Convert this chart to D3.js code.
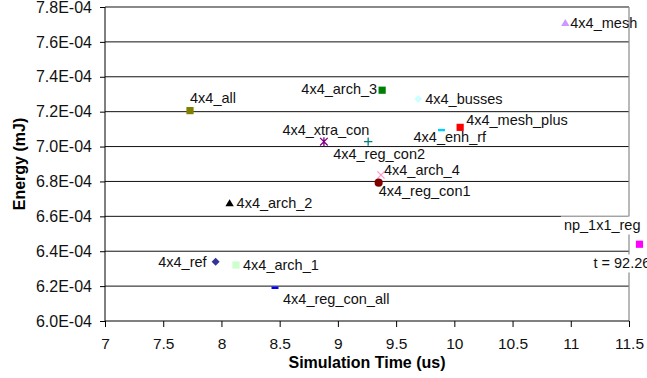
<!DOCTYPE html>
<html>
<head>
<meta charset="utf-8">
<script src="https://cdn.jsdelivr.net/npm/d3@7"></script>
<style>
  body { margin: 0; background: #fff; }
  svg { display: block; font-family: "Liberation Sans", Arial, sans-serif; }
</style>
</head>
<body>
<svg></svg>
<script>
const width = 647;
const height = 378;
const margin = { top: 7, right: 18, bottom: 57, left: 105 };
const innerWidth = width - margin.left - margin.right;
const innerHeight = height - margin.top - margin.bottom;

// values
const configs = [
	'4x4_ref', '4x4_arch_1', '4x4_arch_2', '4x4_arch_3', '4x4_arch_4',
	'4x4_all', '4x4_busses', '4x4_enh_rf', '4x4_mesh', '4x4_mesh_plus',
	'4x4_reg_con1', '4x4_reg_con2', '4x4_reg_con_all', '4x4_xtra_con', 'np_1x1_reg'
];
const simTime = [
	7.95, 8.125, 8.07, 9.38, 9.37,
	7.73, 9.69, 9.89, 10.953, 10.05,
	9.35, 9.26, 8.46, 8.88, 11.59
];
const energy = [
	6.34e-4, 6.321e-4, 6.678e-4, 7.323e-4, 6.837e-4,
	7.206e-4, 7.273e-4, 7.095e-4, 7.711e-4, 7.11e-4,
	6.793e-4, 7.028e-4, 6.191e-4, 7.028e-4, 6.44e-4
];
const xTicks = [7, 7.5, 8, 8.5, 9, 9.5, 10, 10.5, 11, 11.5];
const yTicks = [6.0e-4, 6.2e-4, 6.4e-4, 6.6e-4, 6.8e-4, 7.0e-4, 7.2e-4, 7.4e-4, 7.6e-4, 7.8e-4];
const extraNote = 't = 92.26';

const data = configs.map((name, i) => ({ name, x: simTime[i], y: energy[i] }));

// marker look per configuration
const markers = {
	'4x4_ref': { shape: 'diamond', color: '#333399' },
	'4x4_arch_1': { shape: 'square', color: '#ccffcc' },
	'4x4_arch_2': { shape: 'triangle', color: '#000000' },
	'4x4_arch_3': { shape: 'square', color: '#008000' },
	'4x4_arch_4': { shape: 'x', color: '#ff99cc' },
	'4x4_all': { shape: 'square', color: '#808000' },
	'4x4_busses': { shape: 'diamond', color: '#ccffff' },
	'4x4_enh_rf': { shape: 'dash', color: '#00ccff' },
	'4x4_mesh': { shape: 'triangle', color: '#cc99ff' },
	'4x4_mesh_plus': { shape: 'square', color: '#ff0000' },
	'4x4_reg_con1': { shape: 'circle', color: '#800000' },
	'4x4_reg_con2': { shape: 'plus', color: '#008080' },
	'4x4_reg_con_all': { shape: 'dash', color: '#0000ff' },
	'4x4_xtra_con': { shape: 'star', color: '#800080' },
	'np_1x1_reg': { shape: 'square', color: '#ff00ff' }
};

// where each data label sits relative to its marker
const labelPlace = {
	'4x4_ref': { anchor: 'end', dx: -9, dy: 0 },
	'4x4_arch_1': { anchor: 'start', dx: 7, dy: 0 },
	'4x4_arch_2': { anchor: 'start', dx: 7, dy: 0 },
	'4x4_arch_3': { anchor: 'end', dx: -5, dy: -1 },
	'4x4_arch_4': { anchor: 'start', dx: 3, dy: -5 },
	'4x4_all': { anchor: 'start', dx: 0, dy: -13 },
	'4x4_busses': { anchor: 'start', dx: 7, dy: 0 },
	'4x4_enh_rf': { anchor: 'start', dx: -28, dy: 7 },
	'4x4_mesh': { anchor: 'start', dx: 5, dy: 0 },
	'4x4_mesh_plus': { anchor: 'start', dx: 6, dy: -8 },
	'4x4_reg_con1': { anchor: 'start', dx: 0, dy: 8 },
	'4x4_reg_con2': { anchor: 'start', dx: -35, dy: 12 },
	'4x4_reg_con_all': { anchor: 'start', dx: 8, dy: 11 },
	'4x4_xtra_con': { anchor: 'middle', dx: 2, dy: -12 },
	'np_1x1_reg': { anchor: 'end', dx: 1, dy: -19, boxed: true }
};

const shapePath = (shape) => {
	switch (shape) {
		case 'square': return 'M-3.6,-3.6h7.2v7.2h-7.2Z';
		case 'diamond': return 'M0,-4L4,0L0,4L-4,0Z';
		case 'triangle': return 'M0,-3.6L4.2,3.4L-4.2,3.4Z';
		case 'dash': return 'M-3.5,-1.1h7v2.4h-7Z';
		case 'circle': return d3.symbol(d3.symbolCircle, 52)();
		case 'x': return 'M-3.6,-3.6L3.6,3.6M3.6,-3.6L-3.6,3.6';
		case 'plus': return 'M-4.2,0H4.2M0,-4.2V4.2';
		case 'star': return 'M-3.8,-3.8L3.8,3.8M3.8,-3.8L-3.8,3.8M0,-4.4V4.4';
	}
};
const stroked = s => s === 'x' || s === 'plus' || s === 'star';

const svg = d3.select('svg')
	.attr('width', width)
	.attr('height', height);

const xScale = d3.scaleLinear()
	.domain([7, 11.5])
	.range([0, innerWidth]);

const yScale = d3.scaleLinear()
	.domain([6.0e-4, 7.8e-4])
	.range([innerHeight, 0]);

const g = svg.append('g')
	.attr('transform', `translate(${margin.left}, ${margin.top})`);

// gridlines
const yAxis = d3.axisLeft(yScale)
	.tickValues(yTicks)
	.tickFormat(d => (d * 1e4).toFixed(1) + 'E-04')
	.tickSize(5)
	.tickPadding(8);

g.append('g')
	.attr('class', 'grid')
	.selectAll('line')
	.data(yTicks.slice(1))
	.enter().append('line')
	.attr('x1', 0)
	.attr('x2', innerWidth)
	.attr('y1', d => yScale(d))
	.attr('y2', d => yScale(d))
	.attr('stroke', '#111')
	.attr('stroke-width', 1);

// plot area border on top / right
g.append('path')
	.attr('d', `M0,0.5H${innerWidth}V${innerHeight}`)
	.attr('fill', 'none')
	.attr('stroke', '#8a8a8a')
	.attr('stroke-width', 1.2);

const yAxisG = g.append('g').call(yAxis);
yAxisG.selectAll('text')
	.attr('font-size', 16)
	.attr('fill', '#111')
	.attr('font-family', '"Liberation Sans", Arial, sans-serif');
yAxisG.selectAll('.domain, .tick line').attr('stroke', '#000');
yAxisG.select('.domain').attr('d', `M0,0V${innerHeight}`);

const xAxisG = g.append('g')
	.attr('transform', `translate(0, ${innerHeight})`)
	.call(d3.axisBottom(xScale)
		.tickValues(xTicks)
		.tickFormat(d => d)
		.tickSize(6)
		.tickPadding(11));
xAxisG.selectAll('text')
	.attr('font-size', 15.5)
	.attr('fill', '#111')
	.attr('font-family', '"Liberation Sans", Arial, sans-serif');
xAxisG.selectAll('.domain, .tick line').attr('stroke', '#000');
xAxisG.select('.domain').attr('d', `M0,0H${innerWidth}`);

// axis titles
g.append('text')
	.attr('x', innerWidth / 2)
	.attr('y', innerHeight + 47)
	.attr('text-anchor', 'middle')
	.attr('font-size', 16)
	.attr('font-weight', 'bold')
	.text('Simulation Time (us)');

svg.append('text')
	.attr('transform', `translate(25, ${margin.top + innerHeight / 2}) rotate(-90)`)
	.attr('text-anchor', 'middle')
	.attr('font-size', 16)
	.attr('font-weight', 'bold')
	.text('Energy (mJ)');

// data labels
const labels = g.append('g');
const addLabel = (text, x, y, anchor, boxed) => {
	const lg = labels.append('g');
	const t = lg.append('text')
		.attr('x', x)
		.attr('y', y)
		.attr('dy', '0.36em')
		.attr('text-anchor', anchor)
		.attr('font-size', 14.5)
		.attr('fill', '#111')
		.text(text);
	if (boxed) {
		const b = t.node().getBBox();
		lg.insert('rect', 'text')
			.attr('x', b.x - 3)
			.attr('y', b.y - 1)
			.attr('width', b.width + 6)
			.attr('height', b.height + 2)
			.attr('fill', '#fff');
	}
};

data.forEach(d => {
	const p = labelPlace[d.name];
	addLabel(d.name, xScale(d.x) + p.dx, yScale(d.y) + p.dy, p.anchor, p.boxed);
});
const np = data.find(d => d.name === 'np_1x1_reg');
addLabel(extraNote, xScale(np.x) - 46, yScale(np.y) + 19, 'start', true);

// markers
g.append('g').selectAll('path')
	.data(data)
	.enter().append('path')
	.attr('transform', d => `translate(${xScale(d.x)}, ${yScale(d.y)})`)
	.attr('d', d => shapePath(markers[d.name].shape))
	.attr('fill', d => stroked(markers[d.name].shape) ? 'none' : markers[d.name].color)
	.attr('stroke', d => stroked(markers[d.name].shape) ? markers[d.name].color : 'none')
	.attr('stroke-width', 1.3)
	.append('title')
	.text(d => `${d.name}: ${d.x} us, ${d.y} mJ`);
</script>
</body>
</html>
